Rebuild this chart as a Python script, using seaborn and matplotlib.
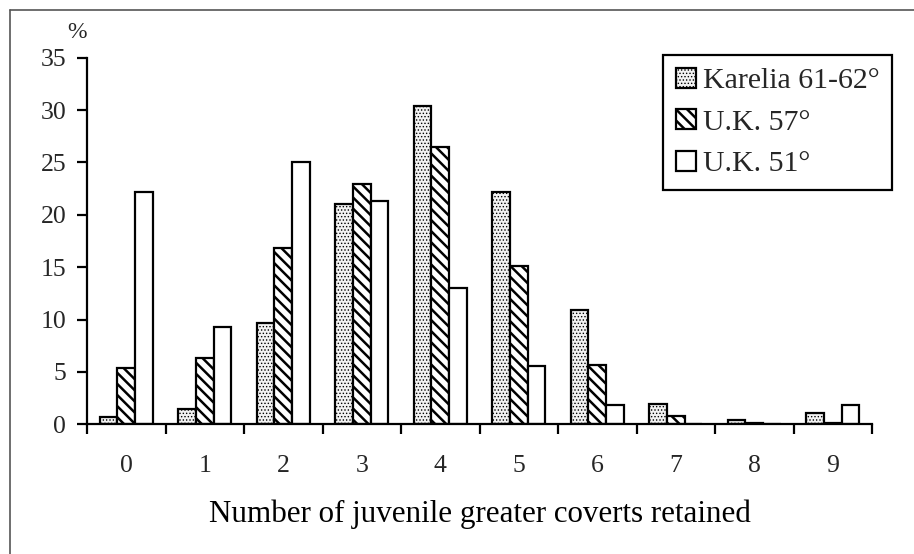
import numpy as np
import pandas as pd
import seaborn as sns
import matplotlib.pyplot as plt
from matplotlib.patches import Patch
from matplotlib.lines import Line2D

# Share of birds (%) by number of juvenile greater coverts retained
categories = ['0', '1', '2', '3', '4', '5', '6', '7', '8', '9']
karelia = [0.7, 1.5, 9.7, 21.0, 30.4, 22.2, 10.9, 1.9, 0.4, 1.1]
uk57 = [5.4, 6.3, 16.8, 22.9, 26.5, 15.1, 5.7, 0.8, 0.15, 0.1]
uk51 = [22.2, 9.3, 25.0, 21.3, 13.0, 5.6, 1.8, 0.0, 0.0, 1.8]
series = ['Karelia 61-62°', 'U.K. 57°', 'U.K. 51°']
yticks = [0, 5, 10, 15, 20, 25, 30, 35]

df = pd.DataFrame({
    'count': categories * 3,
    'pct': karelia + uk57 + uk51,
    'site': [series[0]] * 10 + [series[1]] * 10 + [series[2]] * 10,
})

sns.set_theme(style='white')
plt.rcParams['font.family'] = ['Liberation Serif', 'DejaVu Serif']
plt.rcParams['hatch.linewidth'] = 1.8

fig = plt.figure(figsize=(9.14, 5.54), dpi=100)
ax = fig.add_axes([87 / 914, 1 - 424.3 / 554, (872 - 87) / 914, (424.3 - 57.7) / 554])

faces = ['#f2f2f2', 'white', 'white']
hatches = ['.....', '\\\\\\', '']
hatch_lw = [0.6, 1.8, 1.0]


def style_patch(p, h, lw):
    p.set_hatch(h)
    p.set_edgecolor('black')
    try:
        p.set_hatch_linewidth(lw)
    except AttributeError:
        p._hatch_linewidth = lw


sns.barplot(data=df, x='count', y='pct', hue='site', hue_order=series,
            order=categories, palette=faces, saturation=1, width=0.67,
            edgecolor='black', linewidth=1.6, ax=ax, legend=False)

for cont, h, lw in zip(ax.containers, hatches, hatch_lw):
    for bar in cont:
        style_patch(bar, h, lw)

ax.set_xlim(-0.5, 9.5)
ax.set_ylim(0, 35)
ax.set_yticks(yticks)
ax.set_yticklabels([str(v) for v in yticks], fontsize=18.5)
ax.set_xticks(range(len(categories)))
ax.set_xticklabels(categories, fontsize=18.5)
ax.set_xticks(np.arange(-0.5, 10, 1), minor=True)
ax.tick_params(axis='x', which='major', length=0, pad=22)
ax.tick_params(axis='x', which='minor', length=7, width=1.6, color='black',
               direction='out', bottom=True)
ax.tick_params(axis='y', length=7, width=1.6, color='black', direction='out',
               left=True, pad=8)
for s in ['top', 'right']:
    ax.spines[s].set_visible(False)
for s in ['left', 'bottom']:
    ax.spines[s].set_color('black')
    ax.spines[s].set_linewidth(1.6)
ax.set_ylabel('')
ax.set_xlabel('Number of juvenile greater coverts retained', fontsize=22.3,
              color='black', labelpad=16)
ax.grid(False)

fig.text(77 / 914, 1 - 32 / 554, '%', fontsize=17, ha='center', va='center')

handles = []
for f, h, lw in zip(faces, hatches, hatch_lw):
    p = Patch(facecolor=f, edgecolor='black', linewidth=1.6)
    style_patch(p, h, lw)
    handles.append(p)
leg = ax.legend(handles, series, loc='upper right',
                bbox_to_anchor=(892 / 914, 1 - 55 / 554),
                bbox_transform=fig.transFigure, fontsize=21.5, frameon=True,
                fancybox=False, edgecolor='black', framealpha=1,
                handlelength=0.67, handleheight=0.67, handletextpad=0.23,
                borderpad=0.42, labelspacing=0.5, borderaxespad=0)
leg.get_frame().set_linewidth(1.6)
for p, h, lw in zip(leg.get_patches(), hatches, hatch_lw):
    style_patch(p, h, lw)

# Page frame lines along the top and left edges
fig.add_artist(Line2D([10 / 914, 10 / 914], [0, 1 - 10 / 554], color='#555555', lw=1.2))
fig.add_artist(Line2D([10 / 914, 1], [1 - 10 / 554, 1 - 10 / 554], color='#555555', lw=1.2))

fig.savefig('out.png', dpi=100, facecolor='white')
